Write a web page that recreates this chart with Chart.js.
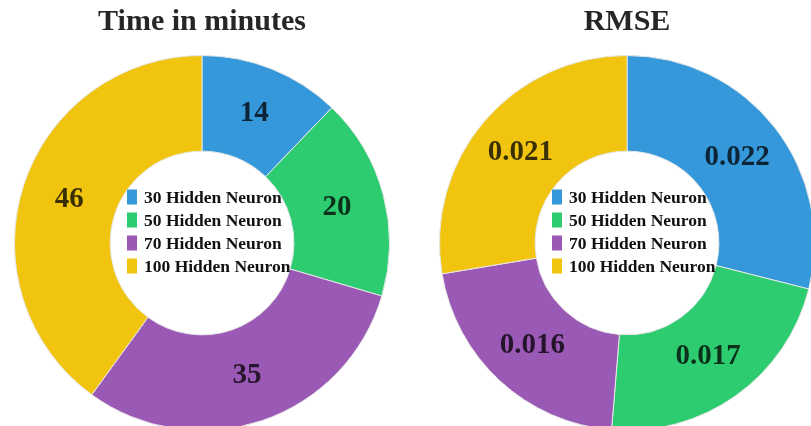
<!DOCTYPE html>
<html>
<head>
<meta charset="utf-8">
<script src="https://cdn.jsdelivr.net/npm/chart.js@4.4.0/dist/chart.umd.min.js"></script>
<style>
    html, body { margin: 0; padding: 0; background: #fff; overflow: hidden; }
    body { width: 811px; height: 426px; position: relative; }
    .box { position: absolute; top: 0; height: 440px; }
    #left-box { left: 0; width: 410px; }
    #right-box { left: 410px; width: 420px; }
</style>
</head>
<body>
<div class="box" id="left-box"><canvas id="time-chart"></canvas></div>
<div class="box" id="right-box"><canvas id="rmse-chart"></canvas></div>
<script>
// Hidden neuron configurations
const neuronLabels = ['30 Hidden Neuron', '50 Hidden Neuron', '70 Hidden Neuron', '100 Hidden Neuron'];
// Training time per configuration (minutes)
const timeValues = [14, 20, 35, 46];
// RMSE per configuration
const rmseValues = [0.022, 0.017, 0.016, 0.021];

const sliceColors = ['#3498db', '#2ecc71', '#9b59b6', '#f1c40f'];
const serif = '"Liberation Serif", "Times New Roman", serif';

/**
 * Draws title, slice values and a legend inside the hole
 */
const donutDecor = {
    id: 'donutDecor',
    afterDraw(chart, args, opts) {
        const ctx = chart.ctx;
        const meta = chart.getDatasetMeta(0);
        const area = chart.chartArea;
        const cx = (area.left + area.right) / 2;
        const cy = (area.top + area.bottom) / 2;
        ctx.save();

        // title
        ctx.fillStyle = '#262626';
        ctx.font = 'bold 30px ' + serif;
        ctx.textAlign = 'center';
        ctx.textBaseline = 'middle';
        ctx.fillText(opts.title, cx, 22);

        // slice values
        ctx.font = 'bold 29px ' + serif;
        ctx.fillStyle = 'rgba(0, 0, 0, 0.76)';
        meta.data.forEach((arc, i) => {
            const pos = arc.tooltipPosition();
            ctx.fillText(opts.format(chart.data.datasets[0].data[i]), pos.x, pos.y);
        });

        // legend in the hole
        ctx.font = 'bold 17.5px ' + serif;
        ctx.textAlign = 'left';
        chart.data.labels.forEach((label, i) => {
            const y = cy - 46 + i * 23;
            ctx.fillStyle = sliceColors[i];
            ctx.fillRect(cx - 75, y - 7.5, 10, 15);
            ctx.fillStyle = '#111';
            ctx.fillText(label, cx - 58, y + 1);
        });
        ctx.restore();
    }
};

function createDonut(canvas, values, title, format, padding) {
    new Chart(canvas, {
        type: 'doughnut',
        data: {
            labels: neuronLabels,
            datasets: [{
                data: values,
                backgroundColor: sliceColors,
                borderColor: '#e6e6e6',
                borderWidth: 1
            }]
        },
        options: {
            responsive: true,
            maintainAspectRatio: false,
            animation: false,
            cutout: '49%',
            layout: { padding: padding },
            plugins: {
                legend: { display: false },
                tooltip: { enabled: false },
                donutDecor: { title: title, format: format }
            }
        },
        plugins: [donutDecor]
    });
}

createDonut(document.getElementById('time-chart'), timeValues, 'Time in minutes',
    v => String(v), { left: 14, right: 20, top: 55, bottom: 9 });
createDonut(document.getElementById('rmse-chart'), rmseValues, 'RMSE',
    v => v.toFixed(3), { left: 29, right: 15, top: 55, bottom: 9 });
</script>
</body>
</html>
